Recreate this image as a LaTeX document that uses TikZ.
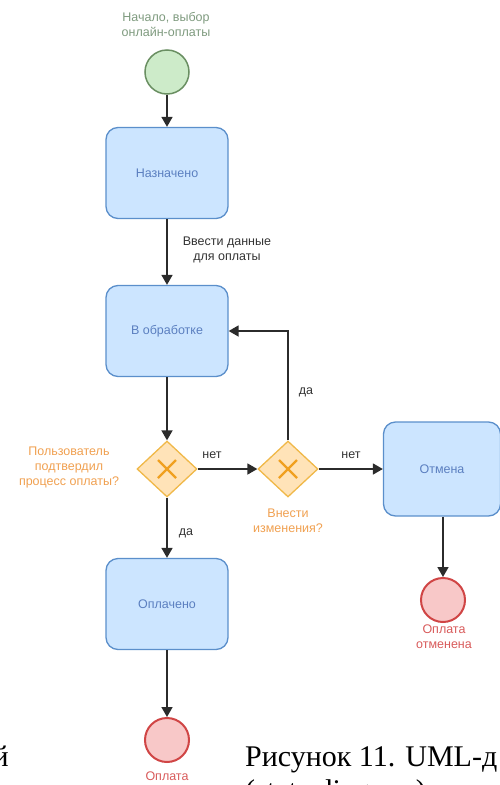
\documentclass[tikz,border=0pt]{standalone}
\usepackage{fontspec}
\setmainfont{Liberation Sans}
\newfontfamily\capfont{Liberation Serif}
\usetikzlibrary{shapes.geometric,arrows.meta}
\definecolor{boxfill}{HTML}{CCE5FF}
\definecolor{boxline}{HTML}{5B8FCB}
\definecolor{boxtext}{HTML}{5B7FC0}
\definecolor{gwfill}{HTML}{FFE3B8}
\definecolor{gwline}{HTML}{F0B848}
\definecolor{gwtext}{HTML}{F0A050}
\definecolor{gwcross}{HTML}{F0A020}
\definecolor{startfill}{HTML}{CDEBC9}
\definecolor{startline}{HTML}{6A8F62}
\definecolor{starttext}{HTML}{7E9A7E}
\definecolor{endfill}{HTML}{F8C8C8}
\definecolor{endline}{HTML}{D04545}
\definecolor{endtext}{HTML}{D85A5A}
\definecolor{arrowcol}{HTML}{2B2B2B}
\newcommand\diafont{\fontsize{12.5}{15}\selectfont}
\tikzset{
  state/.style={draw=boxline, fill=boxfill, rounded corners=12pt, line width=1.3pt,
    minimum width=122pt, minimum height=91pt, text=boxtext, font=\diafont},
  gateway/.style={diamond, draw=gwline, fill=gwfill, line width=1.3pt,
    minimum width=60pt, minimum height=56pt, inner sep=0pt},
  startev/.style={circle, draw=startline, fill=startfill, line width=1.5pt, minimum size=44pt, inner sep=0pt},
  endev/.style={circle, draw=endline, fill=endfill, line width=2pt, minimum size=44pt, inner sep=0pt},
  flow/.style={draw=arrowcol, line width=1.7pt, -{Triangle[length=10pt,width=11pt]}},
  lbl/.style={font=\diafont, text=black!80, align=center},
}
\begin{document}
\begin{tikzpicture}[x=1pt,y=-1pt]
  \useasboundingbox (0,0) rectangle (500,785);
  \clip (0,0) rectangle (500,785);
  % events and states
  \node[startev] (start) at (167,72) {};
  \node[font=\diafont, text=starttext, align=center] (starttxt) at (166,24) {Начало, выбор\\онлайн-оплаты};
  \node[state] (assigned) at (167,173) {Назначено};
  \node[state] (proc) at (167,331) {В обработке};
  \node[gateway] (gwconf) at (167,469) {};
  \node[gateway] (gwedit) at (288,469) {};
  \node[state, minimum width=117pt, minimum height=94pt] (cancel) at (442,469) {Отмена};
  \node[state] (paid) at (167,604) {Оплачено};
  \node[endev] (endpaid) at (167,740) {};
  \node[endev] (endcancel) at (443,600) {};
  \foreach \g in {gwconf,gwedit}
    \draw[gwcross, line width=2.2pt] (\g) +(-9,-9) -- +(9,9) (\g) +(-9,9) -- +(9,-9);
  % flows
  \draw[flow] (start) -- (assigned);
  \draw[flow] (assigned) -- (proc);
  \draw[flow] (proc) -- (gwconf);
  \draw[flow] (gwconf) -- (gwedit);
  \draw[flow] (gwedit) -- (cancel);
  \draw[flow] (gwedit.north) |- (proc.east);
  \draw[flow] (gwconf) -- (paid);
  \draw[flow] (paid) -- (endpaid);
  \draw[flow] (cancel.south -| endcancel) -- (endcancel);
  % labels
  \node[lbl] (entertxt) at (227,250) {Ввести данные\\для оплаты};
  \node[lbl] (no1) at (212,455) {нет};
  \node[lbl] (no2) at (351,455) {нет};
  \node[lbl] (yes1) at (306,392) {да};
  \node[lbl] (yes2) at (186,533) {да};
  \node[font=\diafont, text=gwtext, align=center] (conftxt) at (69,467) {Пользователь\\подтвердил\\процесс оплаты?};
  \node[font=\diafont, text=gwtext, align=center] (edittxt) at (288,521) {Внести\\изменения?};
  \node[font=\diafont, text=endtext, align=center] (canceltxt) at (444,637) {Оплата\\отменена};
  \node[font=\diafont, text=endtext, anchor=north] (paidtxt) at (167,768) {Оплата};
  % page text around the picture
  \node[font=\capfont\fontsize{30}{34}\selectfont, anchor=base west, inner sep=0pt] (cap1) at (245,766) {Рисунок 11. UML-д};
  \node[font=\capfont\fontsize{30}{34}\selectfont, anchor=base west, inner sep=0pt] (cap2) at (245,800) {(state diagram)};
  \node[font=\capfont\fontsize{30}{34}\selectfont, anchor=base east, inner sep=0pt] (word) at (9,766) {й};
\end{tikzpicture}
\end{document}
